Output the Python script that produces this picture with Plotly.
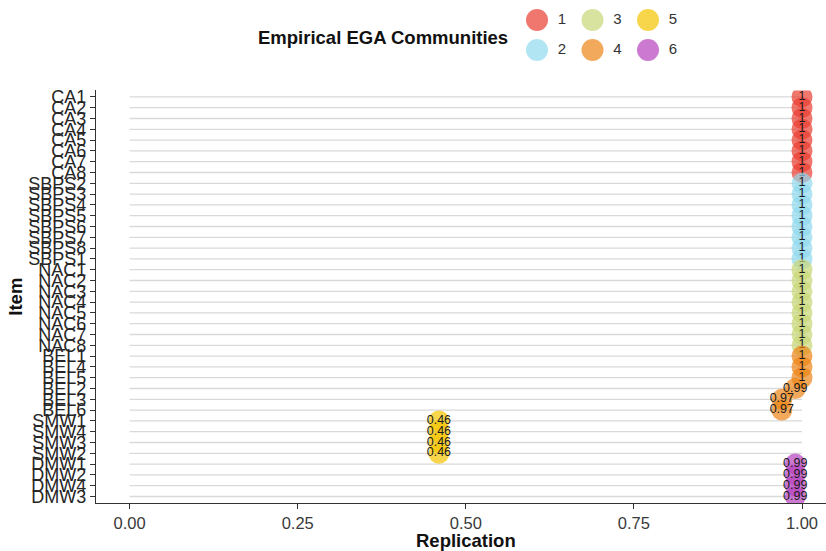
import plotly.graph_objects as go

# Items in display order (top to bottom)
items = ["CA1", "CA2", "CA3", "CA4", "CA5", "CA6", "CA7", "CA8",
         "SBPS2", "SBPS3", "SBPS4", "SBPS5", "SBPS6", "SBPS7", "SBPS8", "SBPS1",
         "NAC1", "NAC2", "NAC3", "NAC4", "NAC5", "NAC6", "NAC7", "NAC8",
         "BEL1", "BEL4", "BEL5", "BEL2", "BEL3", "BEL6",
         "SMW1", "SMW4", "SMW3", "SMW2",
         "DMW1", "DMW2", "DMW4", "DMW3"]
replication = [1, 1, 1, 1, 1, 1, 1, 1,
               1, 1, 1, 1, 1, 1, 1, 1,
               1, 1, 1, 1, 1, 1, 1, 1,
               1, 1, 1, 0.99, 0.97, 0.97,
               0.46, 0.46, 0.46, 0.46,
               0.99, 0.99, 0.99, 0.99]
community = [1] * 8 + [2] * 8 + [3] * 8 + [4] * 6 + [5] * 4 + [6] * 4
community_labels = ["1", "2", "3", "4", "5", "6"]
x_ticks = [0.0, 0.25, 0.5, 0.75, 1.0]
x_tick_text = ["0.00", "0.25", "0.50", "0.75", "1.00"]

palette = {1: "#EA3D31", 2: "#92DAEE", 3: "#C7D777",
           4: "#EC8415", 5: "#F5C400", 6: "#B540BD"}
point_alpha = 0.7
font_family = "Liberation Sans, Arial, sans-serif"
narrow_family = "Liberation Sans Narrow, Arial Narrow, Liberation Sans, sans-serif"

fig = go.Figure()

# Light grey guide segments from 0 to 1 for every item
seg_x, seg_y = [], []
for it in items:
    seg_x += [0, 1, None]
    seg_y += [it, it, None]
fig.add_trace(go.Scatter(x=seg_x, y=seg_y, mode="lines",
                         line=dict(color="#D9D9D9", width=1.3),
                         hoverinfo="skip", showlegend=False))

def fmt(v):
    return f"{v:g}" if v == 1 else f"{v:.2f}"

# Points per community, with replication value printed on each
for c in range(1, 7):
    idx = [i for i, k in enumerate(community) if k == c]
    fig.add_trace(go.Scatter(
        x=[replication[i] for i in idx],
        y=[items[i] for i in idx],
        mode="markers+text",
        marker=dict(size=21, color=palette[c], opacity=point_alpha, line=dict(width=0)),
        text=[fmt(replication[i]) for i in idx],
        textposition="middle center",
        textfont=dict(size=12.5, color="#1A1A1A", family=font_family),
        name=community_labels[c - 1], showlegend=False))

# Legend keys on their own pixel-scaled axis above the panel
leg_x0, leg_dx, leg_y0, leg_dy = 537, 55.5, 20, 30
lx, ly, lc = [], [], []
for i, lab in enumerate(community_labels):
    lx.append(leg_x0 + leg_dx * (i // 2))
    ly.append(leg_y0 + leg_dy * (i % 2))
    lc.append(palette[int(lab)])
fig.add_trace(go.Scatter(x=lx, y=ly, mode="markers", xaxis="x2", yaxis="y2",
                         marker=dict(size=22, color=lc, opacity=point_alpha, line=dict(width=0)),
                         hoverinfo="skip", showlegend=False))
fig.add_trace(go.Scatter(x=[v + 25 for v in lx], y=ly, mode="text", xaxis="x2", yaxis="y2",
                         text=community_labels, textposition="middle center",
                         textfont=dict(size=15, color="#333333", family=font_family),
                         hoverinfo="skip", showlegend=False))

W, H = 826, 551
m_t, m_b, m_l, m_r = 5, 47.5, 96, 0
panel_top_px = 90.5
ph = H - m_t - m_b
pw = W - m_l - m_r
main_top = (H - m_b - panel_top_px) / ph
leg_bottom = 0.8696

def px_x(v):
    return (v - m_l) / pw

def px_y(v):
    return (H - m_b - v) / ph

fig.update_layout(
    width=W, height=H,
    margin=dict(l=m_l, r=m_r, t=m_t, b=m_b, pad=0),
    paper_bgcolor="white", plot_bgcolor="white",
    font=dict(family=font_family),
    xaxis=dict(range=[-0.05, 1.0357], domain=[0, 1], tickmode="array",
               tickvals=x_ticks, ticktext=x_tick_text,
               showgrid=False, zeroline=False, showline=True, linecolor="#333333", linewidth=1.2,
               ticks="outside", ticklen=5, tickcolor="#333333", tickwidth=1.2,
               tickfont=dict(size=16.5, color="#3A3A3A", family=narrow_family), anchor="y"),
    yaxis=dict(type="category", categoryorder="array", categoryarray=items,
               tickmode="array", tickvals=items, ticktext=items,
               range=[len(items) - 1 + 0.6, -0.6], domain=[0, main_top],
               showgrid=False, zeroline=False, showline=True, linecolor="#333333", linewidth=1.2,
               ticks="outside", ticklen=5, tickcolor="#333333", tickwidth=1.2,
               tickfont=dict(size=18, color="#262626", family=narrow_family), anchor="x"),
    xaxis2=dict(range=[m_l, W - m_r], domain=[0, 1], visible=False, anchor="y2"),
    yaxis2=dict(range=[H - m_b - leg_bottom * ph, m_t], domain=[leg_bottom, 1],
                visible=False, anchor="x2"),
    annotations=[
        dict(text="<b>Empirical EGA Communities</b>", x=383, y=38, xref="x2", yref="y2",
             showarrow=False, font=dict(size=18.5, color="#111111"),
             xanchor="center", yanchor="middle"),
        dict(text="<b>Replication</b>", x=px_x(466), y=px_y(541), xref="paper", yref="paper",
             showarrow=False, font=dict(size=18.5, color="#111111"),
             xanchor="center", yanchor="middle"),
        dict(text="<b>Item</b>", x=px_x(16), y=px_y(297), xref="paper", yref="paper",
             showarrow=False, textangle=-90, font=dict(size=18.5, color="#111111"),
             xanchor="center", yanchor="middle"),
    ],
)

fig.write_html("out.html")
